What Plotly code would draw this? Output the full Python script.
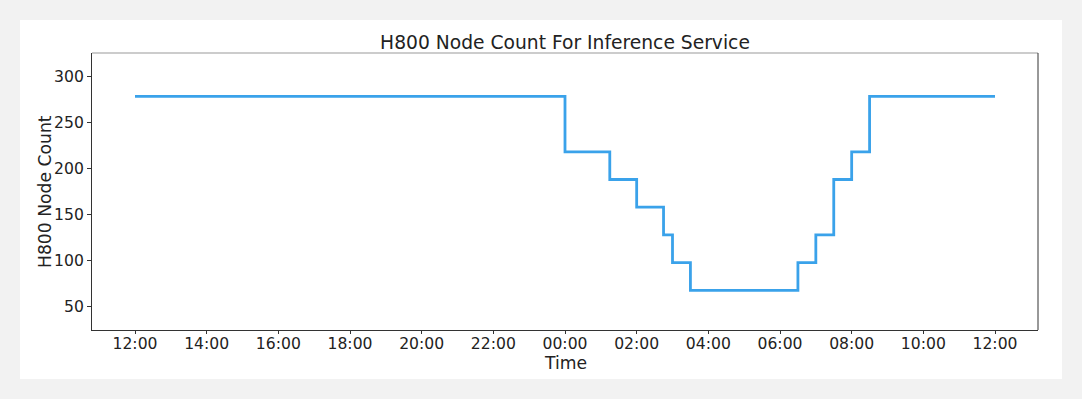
import plotly.graph_objects as go

# Data
times = ["2025-01-01 12:00", "2025-01-02 00:00", "2025-01-02 01:15", "2025-01-02 02:00",
         "2025-01-02 02:45", "2025-01-02 03:00", "2025-01-02 03:30", "2025-01-02 06:30",
         "2025-01-02 07:00", "2025-01-02 07:30", "2025-01-02 08:00", "2025-01-02 08:30",
         "2025-01-02 12:00"]
node_counts = [278, 218, 188, 158, 128, 98, 68, 98, 128, 188, 218, 278, 278]
tick_vals = ["2025-01-01 12:00", "2025-01-01 14:00", "2025-01-01 16:00", "2025-01-01 18:00",
             "2025-01-01 20:00", "2025-01-01 22:00", "2025-01-02 00:00", "2025-01-02 02:00",
             "2025-01-02 04:00", "2025-01-02 06:00", "2025-01-02 08:00", "2025-01-02 10:00",
             "2025-01-02 12:00"]
tick_text = ["12:00", "14:00", "16:00", "18:00", "20:00", "22:00", "00:00", "02:00",
             "04:00", "06:00", "08:00", "10:00", "12:00"]
x_range = ["2025-01-01 10:48", "2025-01-02 13:12"]
y_range = [25, 325]
y_ticks = [50, 100, 150, 200, 250, 300]

W, H = 1082, 399
L, R, T, B = 92, 44, 53, 69
pw, ph = W - L - R, H - T - B

def px_x(p):
    return (p - L) / pw

def px_y(p):
    return (H - B - p) / ph

font = "DejaVu Sans, sans-serif"
txt = "#222"

fig = go.Figure()
fig.add_trace(go.Scatter(
    x=times, y=node_counts, mode="lines", line_shape="hv",
    line=dict(color="#3aa2ea", width=2.8), showlegend=False,
))

fig.update_layout(
    width=W, height=H,
    margin=dict(l=L, r=R, t=T, b=B),
    paper_bgcolor="#f2f2f2",
    plot_bgcolor="white",
    font=dict(family=font, size=15, color=txt),
    title=dict(text="H800 Node Count For Inference Service", x=0.5, xref="paper",
               y=1 - 42 / H, yref="container", yanchor="middle", xanchor="center",
               font=dict(size=18.7, family=font, color=txt)),
    shapes=[
        dict(type="rect", xref="paper", yref="paper", layer="below",
             x0=px_x(20), x1=px_x(1062), y0=px_y(379), y1=px_y(20),
             fillcolor="white", line=dict(width=0)),
        dict(type="line", xref="paper", yref="paper", x0=0, x1=1, y0=1, y1=1,
             line=dict(color="#999", width=1.2)),
        dict(type="line", xref="paper", yref="paper", x0=1, x1=1, y0=0, y1=1,
             line=dict(color="#333", width=1)),
    ],
    annotations=[
        dict(text="Time", xref="paper", yref="paper", x=0.5, y=px_y(363),
             xanchor="center", yanchor="middle", showarrow=False,
             font=dict(size=17.2, family=font, color=txt)),
        dict(text="H800 Node Count", xref="paper", yref="paper", x=px_x(45), y=px_y(192),
             xanchor="center", yanchor="middle", showarrow=False, textangle=-90,
             font=dict(size=17.2, family=font, color=txt)),
    ],
)
fig.update_xaxes(
    range=x_range, tickvals=tick_vals, ticktext=tick_text,
    showgrid=False, zeroline=False, showline=True, linecolor="#333", linewidth=1,
    ticks="outside", ticklen=3, tickcolor="#333", ticklabelstandoff=-4,
    tickfont=dict(size=15.6, family=font, color=txt),
)
fig.update_yaxes(
    range=y_range, tickvals=y_ticks,
    showgrid=False, zeroline=False, showline=True, linecolor="#333", linewidth=1,
    ticks="outside", ticklen=4, tickcolor="#333",
    tickfont=dict(size=15.6, family=font, color=txt),
)

fig.write_html(
    "out.html",
    config={"displayModeBar": False},
    post_script="document.body.style.margin='0';document.body.style.background='#f2f2f2';document.body.style.overflow='hidden';",
)
